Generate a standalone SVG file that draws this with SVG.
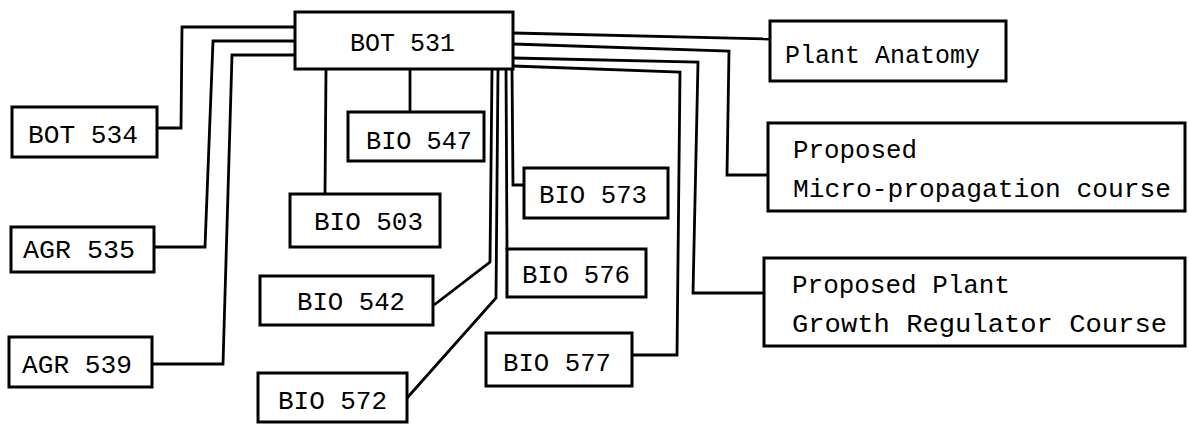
<svg xmlns="http://www.w3.org/2000/svg" width="1189" height="424" viewBox="0 0 1189 424">
<style>
.box{fill:#fff;stroke:#000;stroke-width:3}
.ln{fill:none;stroke:#000;stroke-width:2.8;stroke-linejoin:miter}
text{font-family:"Liberation Mono","DejaVu Sans Mono",monospace;font-size:26.5px;fill:#000}
</style>
<rect width="1189" height="424" fill="#fff"/>
<g id="connectors">
<polyline class="ln" points="295,27 182,27 181,128 157,128"/>
<polyline class="ln" points="295,41 213,41 205,247 154,247"/>
<polyline class="ln" points="295,55 232,55 223,364 152,364"/>
<polyline class="ln" points="326,69 325,194"/>
<polyline class="ln" points="410,69 410,112"/>
<polyline class="ln" points="492,69 490,262 434,305"/>
<polyline class="ln" points="498,69 496,298 407,398"/>
<polyline class="ln" points="506,69 507,249"/>
<polyline class="ln" points="512,69 513,185 524,185"/>
<polyline class="ln" points="513,33 770,39"/>
<polyline class="ln" points="513,44 729,51 727,175 768,175"/>
<polyline class="ln" points="513,58 698,62 693,293 764,293"/>
<polyline class="ln" points="513,66 680,72 677,355 632,355"/>
</g>
<g id="bot531"><rect class="box" x="295" y="12" width="218" height="57"/><text x="350" y="51" textLength="105" lengthAdjust="spacingAndGlyphs">BOT 531</text></g>
<g id="bot534"><rect class="box" x="12" y="107" width="145" height="50"/><text x="28" y="143" textLength="110" lengthAdjust="spacingAndGlyphs">BOT 534</text></g>
<g id="agr535"><rect class="box" x="11" y="227" width="143" height="45"/><text x="23" y="258" textLength="112" lengthAdjust="spacingAndGlyphs">AGR 535</text></g>
<g id="agr539"><rect class="box" x="9" y="337" width="143" height="50"/><text x="22" y="373" textLength="110" lengthAdjust="spacingAndGlyphs">AGR 539</text></g>
<g id="bio547"><rect class="box" x="348" y="112" width="136" height="49"/><text x="366" y="149" textLength="106" lengthAdjust="spacingAndGlyphs">BIO 547</text></g>
<g id="bio503"><rect class="box" x="290" y="194" width="150" height="53"/><text x="314" y="230" textLength="109" lengthAdjust="spacingAndGlyphs">BIO 503</text></g>
<g id="bio542"><rect class="box" x="260" y="276" width="173" height="49"/><text x="297" y="310" textLength="108" lengthAdjust="spacingAndGlyphs">BIO 542</text></g>
<g id="bio572"><rect class="box" x="258" y="373" width="149" height="49"/><text x="278" y="409" textLength="109" lengthAdjust="spacingAndGlyphs">BIO 572</text></g>
<g id="bio573"><rect class="box" x="524" y="168" width="144" height="50"/><text x="539" y="203" textLength="108" lengthAdjust="spacingAndGlyphs">BIO 573</text></g>
<g id="bio576"><rect class="box" x="507" y="249" width="139" height="48"/><text x="522" y="283" textLength="108" lengthAdjust="spacingAndGlyphs">BIO 576</text></g>
<g id="bio577"><rect class="box" x="486" y="333" width="146" height="53"/><text x="503" y="371" textLength="108" lengthAdjust="spacingAndGlyphs">BIO 577</text></g>
<g id="plant-anatomy"><rect class="box" x="770" y="21" width="236" height="60"/><text x="785" y="63" textLength="195" lengthAdjust="spacingAndGlyphs">Plant Anatomy</text></g>
<g id="micro-propagation"><rect class="box" x="768" y="123" width="417" height="88"/><text x="793" y="158" textLength="124" lengthAdjust="spacingAndGlyphs">Proposed</text><text x="793" y="197" textLength="378" lengthAdjust="spacingAndGlyphs">Micro-propagation course</text></g>
<g id="growth-regulator"><rect class="box" x="764" y="258" width="421" height="88"/><text x="792" y="293" textLength="218" lengthAdjust="spacingAndGlyphs">Proposed Plant</text><text x="792" y="332" textLength="375" lengthAdjust="spacingAndGlyphs">Growth Regulator Course</text></g>
</svg>
